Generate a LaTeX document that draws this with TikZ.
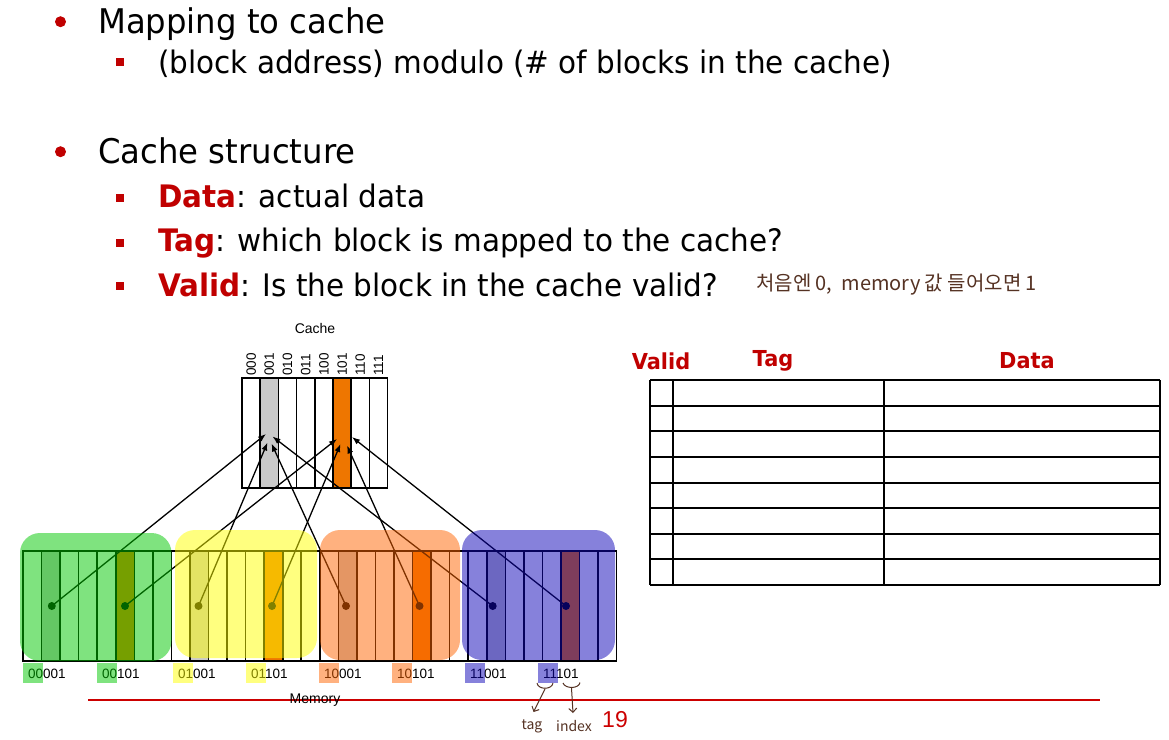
\documentclass[tikz,border=0pt]{standalone}
\usepackage{fontspec}
\setmainfont{DejaVu Sans}[FakeStretch=0.95]
\newfontfamily\arialf{Liberation Sans}
\newfontfamily\krf{Noto Sans CJK KR}
\usetikzlibrary{arrows.meta}
\definecolor{slred}{RGB}{192,0,0}
\definecolor{pgred}{RGB}{204,0,0}
\definecolor{hand}{RGB}{85,50,35}
\definecolor{cgrey}{RGB}{202,202,202}
\definecolor{corange}{RGB}{238,118,0}
\definecolor{ovgreen}{RGB}{0,200,0}
\definecolor{ovyellow}{RGB}{255,255,0}
\definecolor{ovorange}{RGB}{255,100,0}
\definecolor{ovblue}{RGB}{15,5,185}
\tikzset{
  txt/.style={inner sep=0pt, anchor=base west},
  big/.style={font=\fontsize{34}{40}\selectfont},
  sub/.style={font=\fontsize{31}{36}\selectfont},
  hdr/.style={inner sep=0pt, font=\fontsize{22}{26}\selectfont\bfseries, text=slred},
  cell/.style={line width=1.6pt},
  conn/.style={line width=1.3pt, -{Latex[length=8pt,width=6pt]}},
  mdot/.style={circle, fill=black, inner sep=0pt, minimum size=8pt},
  overlay/.style={fill opacity=0.5, rounded corners=20pt},
  lbl/.style={inner sep=0pt, anchor=base west, font=\arialf\fontsize{13.5}{16}\selectfont},
  hpen/.style={draw=hand, line width=1pt},
}
\begin{document}
\begin{tikzpicture}[x=1pt,y=-1pt]
\useasboundingbox (0,0) rectangle (1169,739);
\fill[white] (0,0) rectangle (1169,739);

% ---- bullets and text
\fill[slred] (60.5,21.7) circle (5.5);
\fill[slred] (60.5,151.7) circle (5.5);
\fill[slred] (115.5,57.5) rectangle (123.5,65.5);
\fill[slred] (115.5,193.5) rectangle (123.5,201.5);
\fill[slred] (115.5,238.5) rectangle (123.5,246.5);
\fill[slred] (115.5,282) rectangle (123.5,290);
\node[txt,big] (t1) at (98,33) {Mapping to cache};
\node[txt,sub] (t2) at (158,73) {(block address) modulo (\# of blocks in the cache)};
\node[txt,big] (t3) at (98,163) {Cache structure};
\node[txt,sub] (t4) at (158,207) {\textcolor{slred}{\textbf{Data}}: actual data};
\node[txt,sub] (t5) at (158,251.5) {\textcolor{slred}{\textbf{Tag}}: which block is mapped to the cache?};
\node[txt,sub] (t6) at (158,296) {\textcolor{slred}{\textbf{Valid}}: Is the block in the cache valid?};
\node[inner sep=0pt, anchor=west, text=hand, font=\krf\fontsize{20}{24}\selectfont] (note) at (756,285) {처음엔 0,\ \ memory 값 들어오면 1};

% ---- table
\node[hdr] (hv) at (661,361) {Valid};
\node[hdr] (ht) at (773,361) {Tag};
\node[hdr] (hd) at (1027,361) {Data};
\foreach \k in {0,...,8} {
  \draw[line width=2pt] (650,380+\k*25.625) -- (1160,380+\k*25.625);
}
\draw[line width=2pt] (650,380) -- (650,585);
\draw[line width=2pt] (673,380) -- (673,585);
\draw[line width=2pt] (884,380) -- (884,585);
\draw[line width=2pt] (1160,380) -- (1160,585);

% ---- cache
\node[inner sep=0pt, font=\arialf\fontsize{14}{16}\selectfont] (cachelbl) at (315,328) {Cache};
\fill[cgrey] (260.2,378) rectangle (278.4,488);
\fill[corange] (333,378) rectangle (351.2,488);
\foreach \i/\t in {0/000,1/001,2/010,3/011,4/100,5/101,6/110,7/111} {
  \node[inner sep=0pt, anchor=west, rotate=90, font=\arialf\fontsize{13.5}{15}\selectfont] (ch\i) at (242+18.2*\i+9.1,376) {\t};
}
\foreach \i in {1,...,7} {
  \draw[cell] (242+18.2*\i,378) -- (242+18.2*\i,488);
}
\draw[cell] (242,378) rectangle (387.6,488);

% ---- memory
\foreach \g in {0,1,2,3} {
  \fill[cgrey] (23+18.55*\g*8+18.55,551) rectangle (23+18.55*\g*8+37.1,661);
  \fill[corange] (23+18.55*\g*8+92.75,551) rectangle (23+18.55*\g*8+111.3,661);
}
\foreach \i in {1,...,31} {
  \draw[cell] (23+18.55*\i,551) -- (23+18.55*\i,661);
}
\draw[cell] (23,551) rectangle (616.6,661);

% dots
\node[mdot] (g1) at (51.8,606) {};
\node[mdot] (g5) at (125.0,606) {};
\node[mdot] (y1) at (198.5,606) {};
\node[mdot] (y5) at (272.0,606) {};
\node[mdot] (o1) at (346.0,606) {};
\node[mdot] (o5) at (419.5,606) {};
\node[mdot] (b1) at (492.7,606) {};
\node[mdot] (b5) at (566.0,606) {};
% targets in cache
\coordinate (cg1) at (266,434);
\coordinate (cy1) at (267.5,442.5);
\coordinate (co1) at (271.5,443.5);
\coordinate (cb1) at (272.5,436.5);
\coordinate (cg5) at (337,439);
\coordinate (cy5) at (340.5,444);
\coordinate (co5) at (347,445.5);
\coordinate (cb5) at (352,437);
\draw[conn] (g1.center) -- (cg1);
\draw[conn] (y1.center) -- (cy1);
\draw[conn] (o1.center) -- (co1);
\draw[conn] (b1.center) -- (cb1);
\draw[conn] (g5.center) -- (cg5);
\draw[conn] (y5.center) -- (cy5);
\draw[conn] (o5.center) -- (co5);
\draw[conn] (b5.center) -- (cb5);

% address labels
\node[lbl] (a1) at (28,678) {00001};
\node[lbl] (a2) at (102,678) {00101};
\node[lbl] (a3) at (178,678) {01001};
\node[lbl] (a4) at (251,678) {01101};
\node[lbl] (a5) at (324,678) {10001};
\node[lbl] (a6) at (397,678) {10101};
\node[lbl] (a7) at (470,678) {11001};
\node[lbl] (a8) at (543,678) {11101};

% overlays
\fill[ovgreen, overlay] (20,533) rectangle (171.5,661);
\fill[ovyellow, overlay] (175,530) rectangle (317,658);
\fill[ovorange, overlay] (320,530) rectangle (460,660);
\fill[ovblue, overlay] (462,530) rectangle (615,660);
\fill[ovgreen, fill opacity=0.5] (23,663) rectangle (43,683);
\fill[ovgreen, fill opacity=0.5] (97,663) rectangle (117,683);
\fill[ovyellow, fill opacity=0.5] (173,663) rectangle (193,683);
\fill[ovyellow, fill opacity=0.5] (246,663) rectangle (266,683);
\fill[ovorange, fill opacity=0.5] (319,663) rectangle (339,683);
\fill[ovorange, fill opacity=0.5] (392,663) rectangle (412,683);
\fill[ovblue, fill opacity=0.5] (465,663) rectangle (485,683);
\fill[ovblue, fill opacity=0.5] (538,663) rectangle (558,683);

% footer
\draw[pgred, line width=2pt] (88,699.5) -- (1100,699.5);
\node[inner sep=0pt, font=\arialf\fontsize{14}{16}\selectfont] (memlbl) at (315,700) {Memory};
\node[inner sep=0pt, text=pgred, font=\arialf\fontsize{23}{26}\selectfont] (pg) at (615,720) {19};

% tag / index annotation
\coordinate (br1a) at (537,683);
\coordinate (br1m) at (545,689);
\coordinate (br1b) at (553,683);
\coordinate (br2a) at (563,683);
\coordinate (br2m) at (571.5,688);
\coordinate (br2b) at (580,682.5);
\node[inner sep=0pt, text=hand, font=\krf\fontsize{14}{16}\selectfont] (tag) at (532,726) {tag};
\node[inner sep=0pt, text=hand, font=\krf\fontsize{14}{16}\selectfont] (idx) at (574,726) {index};
\draw[hpen] (br1a) .. controls (538,690) and (552,690) .. (br1b);
\draw[hpen] (br2a) .. controls (565,689) and (579,689) .. (br2b);
\draw[hpen, -{Straight Barb[length=4pt]}] (br1m) -- (533.5,712);
\draw[hpen, -{Straight Barb[length=4pt]}] (br2m) -- (573,713);
\end{tikzpicture}
\end{document}
